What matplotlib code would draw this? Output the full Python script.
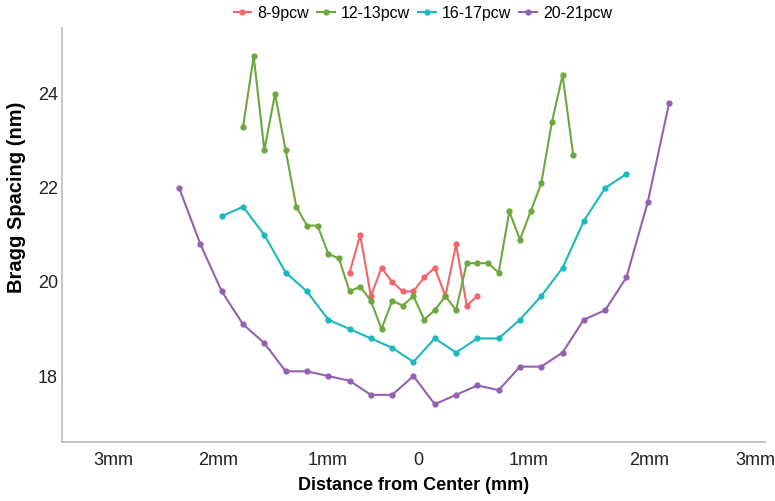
import numpy as np
import matplotlib
matplotlib.use("Agg")
import matplotlib.pyplot as plt

plt.rcParams['font.family'] = ['Liberation Sans', 'DejaVu Sans']

# distance from center (mm) and Bragg spacing (nm) for each age group
x_8_9 = np.round(np.arange(-0.6, 0.61, 0.1), 1)
y_8_9 = [20.2, 21.0, 19.7, 20.3, 20.0, 19.8, 19.8, 20.1, 20.3, 19.7, 20.8, 19.5, 19.7]

x_12_13 = np.round(np.arange(-1.6, 1.51, 0.1), 1)
y_12_13 = [23.3, 24.8, 22.8, 24.0, 22.8, 21.6, 21.2, 21.2, 20.6, 20.5, 19.8,
           19.9, 19.6, 19.0, 19.6, 19.5, 19.7, 19.2, 19.4, 19.7, 19.4, 20.4,
           20.4, 20.4, 20.2, 21.5, 20.9, 21.5, 22.1, 23.4, 24.4, 22.7]

x_16_17 = np.round(np.arange(-1.8, 2.01, 0.2), 1)
y_16_17 = [21.4, 21.6, 21.0, 20.2, 19.8, 19.2, 19.0, 18.8, 18.6, 18.3,
           18.8, 18.5, 18.8, 18.8, 19.2, 19.7, 20.3, 21.3, 22.0, 22.3]

x_20_21 = np.round(np.arange(-2.2, 2.41, 0.2), 1)
y_20_21 = [22.0, 20.8, 19.8, 19.1, 18.7, 18.1, 18.1, 18.0, 17.9, 17.6, 17.6, 18.0,
           17.4, 17.6, 17.8, 17.7, 18.2, 18.2, 18.5, 19.2, 19.4, 20.1, 21.7, 23.8]

tick_labels = ["3mm", "2mm", "1mm", "0", "1mm", "2mm", "3mm"]
tick_pos = [-2.82, -1.83, -0.81, 0.05, 1.08, 2.21, 3.21]

series = [
    ("8-9pcw", x_8_9, y_8_9, "#F0666A"),
    ("12-13pcw", x_12_13, y_12_13, "#6DA83E"),
    ("16-17pcw", x_16_17, y_16_17, "#1BB8C0"),
    ("20-21pcw", x_20_21, y_20_21, "#9460B0"),
]

fig = plt.figure(figsize=(7.75, 5.01), dpi=100)
ax = fig.add_axes([0.080, 0.118, 0.907, 0.826])

for name, xs, ys, c in series:
    ax.plot(xs, ys, color=c, lw=1.5, marker='o', ms=3.5, label=name)

ax.set_xlim(-3.3, 3.3)
ax.set_ylim(16.6, 25.4)
ax.set_yticks([18, 20, 22, 24])
ax.set_xticks(tick_pos)
ax.set_xticklabels(tick_labels)
ax.tick_params(length=0, labelsize=13, colors='#222222')
ax.tick_params(axis='x', pad=7)
ax.tick_params(axis='y', pad=3)

for s in ['top', 'right']:
    ax.spines[s].set_visible(False)
for s in ['left', 'bottom']:
    ax.spines[s].set_color('#bbbbbb')
    ax.spines[s].set_linewidth(1.2)

ax.set_xlabel("Distance from Center (mm)", fontsize=13, fontweight='bold')
ax.xaxis.set_label_coords(0.5, -0.084)
ax.set_ylabel("Bragg Spacing (nm)", fontsize=14.5, fontweight='bold')
ax.yaxis.set_label_coords(-0.051, 0.592)

fig.legend(loc='center', bbox_to_anchor=(423 / 775, 0.974), ncol=4, frameon=False,
           fontsize=11.5, handlelength=1.1, handletextpad=0.4, columnspacing=0.5,
           borderaxespad=0)

fig.savefig("out.png", dpi=100)
